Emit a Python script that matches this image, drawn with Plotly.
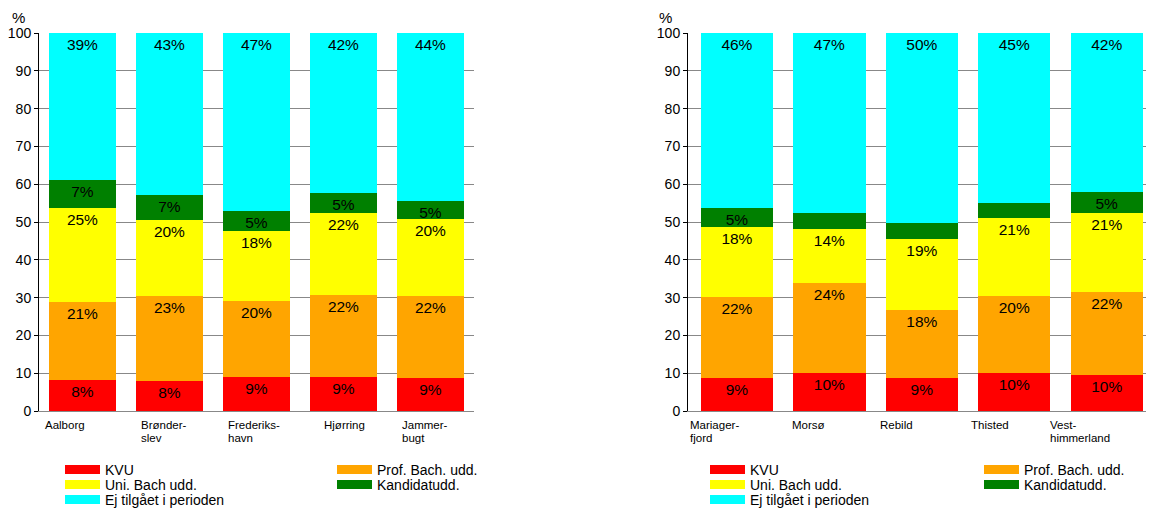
import plotly.graph_objects as go

# ---------------- data ----------------
left_labels = ["Aalborg", "Brønder-\nslev", "Frederiks-\nhavn", "Hjørring", "Jammer-\nbugt"]
right_labels = ["Mariager-\nfjord", "Morsø", "Rebild", "Thisted", "Vest-\nhimmerland"]

series_names = ["KVU", "Prof. Bach. udd.", "Uni. Bach udd.", "Kandidatudd.", "Ej tilgået i perioden"]
series_colors = ["#FF0000", "#FFA500", "#FFFF00", "#008000", "#00FFFF"]

left_kvu = [8.2, 7.9, 8.9, 9.1, 8.7]
left_prof = [20.6, 22.6, 20.2, 21.6, 21.7]
left_uni = [25.0, 20.1, 18.4, 21.8, 20.3]
left_kand = [7.3, 6.6, 5.4, 5.2, 4.9]
left_ej = [38.9, 42.8, 47.1, 42.3, 44.4]

right_kvu = [8.6, 10.1, 8.7, 10.0, 9.6]
right_prof = [21.6, 23.7, 17.9, 20.3, 22.0]
right_uni = [18.4, 14.3, 18.8, 20.8, 20.9]
right_kand = [5.0, 4.4, 4.3, 3.9, 5.4]
right_ej = [46.4, 47.4, 50.3, 45.0, 42.1]

y_ticks = [0, 10, 20, 30, 40, 50, 60, 70, 80, 90, 100]

# ---------------- style ----------------
FONT = "Liberation Sans, Arial, sans-serif"
W, H = 1154, 508
OFF = 8  # page body margin


def px_x(p):
    return (p - OFF) / W


def px_y(p):
    return 1 - (p - OFF) / H


fig = go.Figure()

charts = [
    ("x", "y", left_labels, [left_kvu, left_prof, left_uni, left_kand, left_ej]),
    ("x2", "y2", right_labels, [right_kvu, right_prof, right_uni, right_kand, right_ej]),
]

for xa, ya, labels, series in charts:
    cats = [lab.replace("-\n", "").replace("\n", " ") for lab in labels]
    for name, color, vals in zip(series_names, series_colors, series):
        fig.add_trace(go.Bar(
            x=cats, y=vals, name=name, xaxis=xa, yaxis=ya,
            marker=dict(color=color, line=dict(width=0)),
            text=[f"{round(v)}%" if v >= 4.5 else "" for v in vals],
            textposition="inside", insidetextanchor="end", textangle=0,
            textfont=dict(family=FONT, size=15.5, color="black"),
            showlegend=False, hoverinfo="skip",
        ))

# legend proxies: each item its own legend for exact placement
legend_layout = {}
col_x = [[64, 336], [709, 983]]
row_y = [470, 485, 500]
item_pos = [(0, 0), (1, 0), (0, 1), (1, 1), (0, 2)]  # (column, row) per series
n = 0
for c, (xa, ya, _, _) in enumerate(charts):
    for name, color, (col, row) in zip(series_names, series_colors, item_pos):
        n += 1
        key = "legend" if n == 1 else f"legend{n}"
        fig.add_trace(go.Scatter(
            x=[None], y=[None], mode="lines", name=name, xaxis=xa, yaxis=ya,
            line=dict(color=color, width=9), legend=key, showlegend=True,
        ))
        legend_layout[key] = dict(
            x=px_x(col_x[c][col] - 4), y=px_y(row_y[row]),
            xanchor="left", yanchor="middle", orientation="v",
            bgcolor="rgba(0,0,0,0)", borderwidth=0, itemwidth=35,
            font=dict(family=FONT, size=14, color="black"),
            itemclick=False, itemdoubleclick=False,
        )

# x category labels as annotations (left aligned, tight line spacing)
annotations = []
label_shift = [[-40, -31, -31, -22, -31], [-49, -39, -44, -45, -59]]
for c, (xa, ya, labels, _) in enumerate(charts):
    cats = [lab.replace("-\n", "").replace("\n", " ") for lab in labels]
    for i, (cat, lab) in enumerate(zip(cats, labels)):
        for j, line in enumerate(lab.split("\n")):
            annotations.append(dict(
                x=cat, xref=xa, y=px_y(417), yref="paper",
                text=line, showarrow=False, xanchor="left", yanchor="top",
                xshift=label_shift[c][i], yshift=-12.7 * j,
                font=dict(family=FONT, size=11.5, color="black"),
            ))

for xp in (18.5, 665.5):
    annotations.append(dict(
        x=px_x(xp), y=px_y(18), xref="paper", yref="paper", text="%",
        showarrow=False, xanchor="center", yanchor="middle",
        font=dict(family=FONT, size=15, color="black"),
    ))

y_dom = [px_y(411), px_y(33)]
yaxis_style = dict(
    range=[0, 100], domain=y_dom, tickvals=y_ticks, automargin=False,
    showline=True, linecolor="black", linewidth=1,
    ticks="outside", ticklen=4, tickcolor="black",
    showgrid=True, gridcolor="#888888", gridwidth=1, zeroline=False,
    tickfont=dict(family=FONT, size=14, color="black"),
    fixedrange=True,
)
xaxis_style = dict(
    showline=True, linecolor="#888888", linewidth=1, showticklabels=False,
    ticks="", showgrid=False, zeroline=False, fixedrange=True, automargin=False,
)

fig.update_layout(
    width=W, height=H, margin=dict(l=0, r=0, t=0, b=0, autoexpand=False),
    paper_bgcolor="white", plot_bgcolor="white",
    barmode="stack", bargap=0.22,
    uniformtext=dict(minsize=15.5, mode="show"),
    xaxis=dict(domain=[px_x(39), px_x(474)], anchor="y", **xaxis_style),
    xaxis2=dict(domain=[px_x(688), px_x(1153)], anchor="y2", **xaxis_style),
    yaxis=dict(anchor="x", **yaxis_style),
    yaxis2=dict(anchor="x2", **yaxis_style),
    annotations=annotations,
    **legend_layout,
)

fig.write_html("out.html")
